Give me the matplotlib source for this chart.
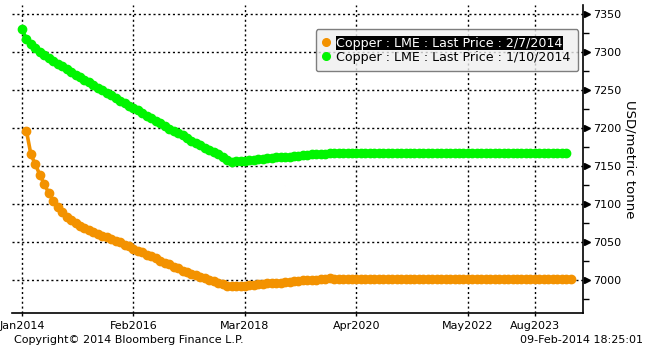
import numpy as np
import matplotlib
matplotlib.use("Agg")
import matplotlib.pyplot as plt
from matplotlib.transforms import blended_transform_factory

# Monatsindex ab Jan 2014
tick_months = [0, 25, 50, 75, 100, 115]
tick_labels = ["Jan2014", "Feb2016", "Mar2018", "Apr2020", "May2022", "Aug2023"]

# Kurve vom 1/10/2014 (Start Jan 2014)
green_start = 0
green_vals = [
    7330, 7317, 7310, 7305, 7300, 7296, 7292, 7288, 7284, 7281,
    7277, 7274, 7270, 7267, 7263, 7260, 7256, 7253, 7250, 7246,
    7243, 7240, 7236, 7233, 7229, 7226, 7223, 7219, 7216, 7213,
    7209, 7206, 7203, 7199, 7196, 7193, 7190, 7187, 7183, 7180,
    7177, 7174, 7171, 7168, 7165, 7161, 7158, 7155, 7156, 7157,
    7157, 7158, 7158, 7159, 7159, 7160, 7160, 7161, 7161, 7162,
    7162, 7163, 7163, 7164, 7164, 7165, 7165, 7166, 7166, 7167,
    7167, 7167, 7167, 7167, 7167, 7167, 7167, 7167, 7167, 7167,
    7167, 7167, 7167, 7167, 7167, 7167, 7167, 7167, 7167, 7167,
    7167, 7167, 7167, 7167, 7167, 7167, 7167, 7167, 7167, 7167,
    7167, 7167, 7167, 7167, 7167, 7167, 7167, 7167, 7167, 7167,
    7167, 7167, 7167, 7167, 7167, 7167, 7167, 7167, 7167, 7167,
    7167, 7167, 7167,
]

# Kurve vom 2/7/2014 (Start Feb 2014)
orange_start = 1
orange_vals = [
    7196, 7165, 7152, 7138, 7126, 7114, 7104, 7096, 7089, 7083,
    7078, 7074, 7071, 7068, 7065, 7063, 7060, 7058, 7056, 7054,
    7051, 7049, 7046, 7044, 7041, 7038, 7036, 7033, 7031, 7028,
    7025, 7022, 7020, 7017, 7015, 7012, 7010, 7008, 7006, 7004,
    7002, 7000, 6998, 6996, 6994, 6992, 6991, 6991, 6992, 6992,
    6993, 6993, 6994, 6994, 6995, 6995, 6996, 6996, 6997, 6997,
    6998, 6998, 6999, 6999, 7000, 7000, 7001, 7001, 7002, 7001,
    7001, 7001, 7001, 7001, 7001, 7001, 7001, 7001, 7001, 7001,
    7001, 7001, 7001, 7001, 7001, 7001, 7001, 7001, 7001, 7001,
    7001, 7001, 7001, 7001, 7001, 7001, 7001, 7001, 7001, 7001,
    7001, 7001, 7001, 7001, 7001, 7001, 7001, 7001, 7001, 7001,
    7001, 7001, 7001, 7001, 7001, 7001, 7001, 7001, 7001, 7001,
    7001, 7001, 7001,
]

y_major = [7000, 7050, 7100, 7150, 7200, 7250, 7300, 7350]

orange = "#F39200"
green = "#00F500"

fig = plt.figure(figsize=(6.52, 3.53), dpi=100)
ax = fig.add_axes([12 / 652, 1 - 313 / 353, 571 / 652, 308 / 353])

x_orange = orange_start + np.arange(len(orange_vals))
x_green = green_start + np.arange(len(green_vals))

ax.plot(x_orange, orange_vals, color=orange, lw=2.6, marker="o", ms=6.0,
        mec=orange, label="Copper : LME : Last Price : 2/7/2014", zorder=3)
ax.plot(x_green, green_vals, color=green, lw=2.6, marker="o", ms=6.0,
        mec=green, label="Copper : LME : Last Price : 1/10/2014", zorder=3)

ax.set_xlim(-2.24, 125.8)
ax.set_ylim(6956, 7362)

ax.set_xticks(tick_months)
ax.set_xticklabels(tick_labels)
ax.set_yticks(y_major)
ax.set_yticks(np.arange(6975, 7362, 50), minor=True)

ax.yaxis.tick_right()
ax.yaxis.set_label_position("right")
ax.set_ylabel("USD/metric tonne", rotation=270, fontsize=9.5, labelpad=11)

for s in ["left", "top"]:
    ax.spines[s].set_visible(False)
ax.spines["right"].set_linewidth(1.2)
ax.spines["bottom"].set_linewidth(1.2)

ax.tick_params(axis="y", which="major", length=0, pad=7, labelsize=8)
ax.tick_params(axis="y", which="minor", length=4, width=1, direction="out")
ax.tick_params(axis="x", which="major", length=2, width=1, pad=4, labelsize=8)

ax.grid(True, which="major", color="black", linestyle=(0, (1.5, 2)), lw=1)

# Pfeilspitzen an den Hauptticks
trans = blended_transform_factory(ax.transAxes, ax.transData)
for v in y_major:
    ax.plot([1.007], [v], transform=trans, marker=">", ms=5, color="black",
            clip_on=False, zorder=5)

leg = ax.legend(loc="upper right", bbox_to_anchor=(0.992, 0.922), fontsize=9.1,
                handlelength=0.5, handletextpad=0.55, borderpad=0.6,
                labelspacing=0.08, borderaxespad=0.0, frameon=True, fancybox=True,
                facecolor="#EFEFEF", edgecolor="#606060", framealpha=0.8,
                markerscale=1.0)
for h in leg.legend_handles:
    h.set_linestyle("none")
    h.set_markersize(5.5)
texts = leg.get_texts()
texts[0].set_color("white")
texts[0].set_bbox(dict(facecolor="black", edgecolor="none", pad=0.5))

fig.text(14 / 652, 1 - 340 / 353, "Copyright\u00a9 2014 Bloomberg Finance L.P.",
         fontsize=8, va="center", ha="left")
fig.text(643 / 652, 1 - 340 / 353, "09-Feb-2014 18:25:01",
         fontsize=8, va="center", ha="right")

fig.savefig("out.png", dpi=100)
